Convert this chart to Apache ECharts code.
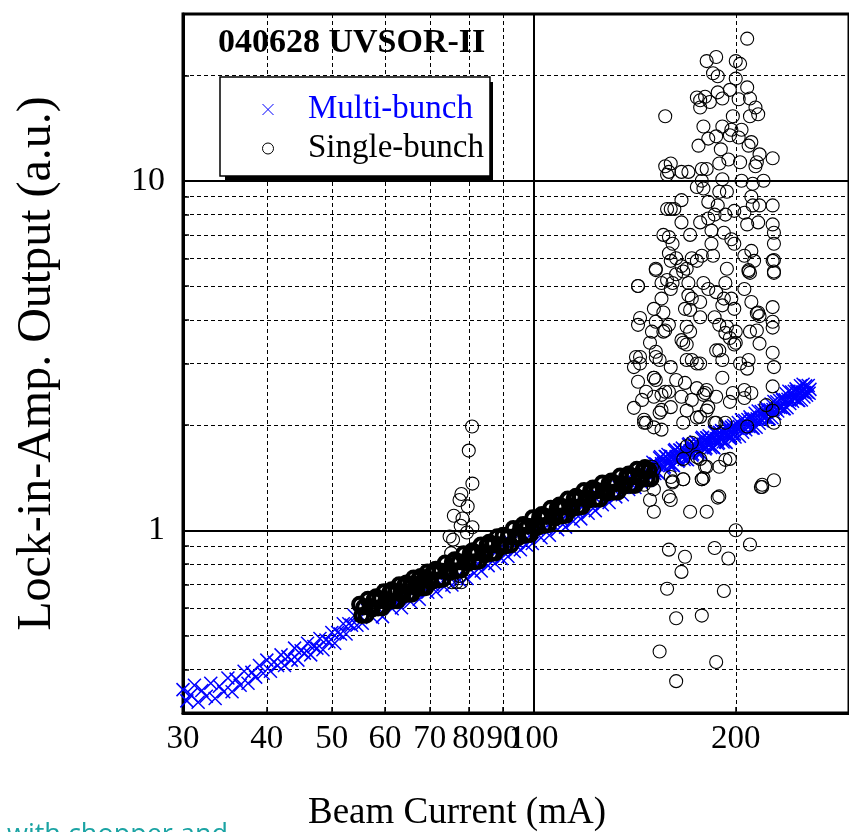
<!DOCTYPE html>
<html>
<head>
<meta charset="utf-8">
<script src="https://cdn.jsdelivr.net/npm/echarts@6/dist/echarts.min.js"></script>
<style>
html,body{margin:0;padding:0;background:#fff;}
#chart{width:849px;height:832px;}
</style>
</head>
<body>
<div id="chart"></div>
<script>
// ---------- tick values ----------
const xTickValues = [30, 40, 50, 60, 70, 80, 90, 100, 200];
const yGridValues = [0.3, 0.4, 0.5, 0.6, 0.7, 0.8, 0.9, 1, 2, 3, 4, 5, 6, 7, 8, 9, 10, 20, 30];
const yLabelValues = [1, 10];

// ---------- Multi-bunch (blue x) ----------
const multiBunchX = [
30.0,30.4,30.8,31.2,31.6,32.0,32.5,33.0,33.5,34.0,34.5,35.0,35.5,36.0,36.5,37.0,37.5,38.0,38.5,39.0,39.5,40.0,40.5,41.0,41.5,42.0,42.5,43.0,43.5,44.0,44.5,45.0,45.5,46.0,46.5,47.0,47.5,48.0,48.5,49.0,49.5,50.0,50.5,51.0,51.5,52.0,52.5,53.0,53.5,54.0,54.5,55.0,
55.5,56.5,57.5,58.5,59.5,60.5,61.5,62.5,63.5,64.5,65.5,66.5,67.5,68.5,69.5,70.5,71.5,72.5,73.5,74.5,75.5,76.5,77.5,78.5,79.5,80.5,81.5,82.5,83.5,84.5,85.5,86.5,87.5,88.5,89.5,90.5,91.5,92.5,93.5,94.5,95.5,96.5,97.5,98.5,99.5,
101,102.5,104,105.5,107,108.5,110,111.5,113,114.5,116,117.5,119,120.5,122,123.5,125,126.5,128,129.5,131,132.5,134,135.5,137,138.5,140,141.5,143,144.5,146,147.5,149,
150.5,151.5,152.5,153.5,154.5,155.5,156.5,157.5,158.5,159.5,160.5,161.5,162.5,163.5,164.5,165.5,166.5,167.5,168.5,169.5,170.5,171.5,172.5,173.5,174.5,175.5,176.5,177.5,178.5,179.5,180.5,181.5,182.5,183.5,184.5,185.5,186.5,187.5,188.5,189.5,190.5,191.5,192.5,193.5,194.5,195.5,196.5,197.5,198.5,199.5,
201,202.5,204,205.5,207,208.5,210,211.5,213,214.5,216,217.5,219,220.5,222,223.5,225,226.5,228,229.5,231,232.5,234,235.5,237,238.5,240,241.5,243,244.5,246,247.5,249,250.5,252,253.5,255,256.5,258,
151,152,153,154,155,156,157,158,159,160,161,162,163,164,165,166,167,168,169,170,171,172,173,174,175,176,177,178,179,180,181,182,183,184,185,186,187,188,189,190,191,192,193,194,195,196,197,198,199,200,
201.75,203.25,204.75,206.25,207.75,209.25,210.75,212.25,213.75,215.25,216.75,218.25,219.75,221.25,222.75,224.25,225.75,227.25,228.75,230.25,231.75,233.25,234.75,236.25,237.75,239.25,240.75,242.25,243.75,245.25,246.75,248.25,249.75,251.25,252.75,254.25,255.75,257.25
];
const multiBunchY = [
0.350,0.325,0.338,0.360,0.322,0.348,0.335,0.365,0.330,0.358,0.345,0.378,0.345,0.375,0.360,0.395,0.365,0.392,0.380,0.410,0.390,0.425,0.395,0.420,0.410,0.440,0.410,0.435,0.425,0.460,0.425,0.452,0.445,0.475,0.440,0.465,0.460,0.490,0.455,0.485,0.480,0.510,0.475,0.510,0.505,0.540,0.505,0.540,0.535,0.570,0.535,0.570,
0.542,0.590,0.563,0.600,0.566,0.629,0.596,0.629,0.600,0.660,0.624,0.672,0.635,0.697,0.665,0.701,0.667,0.731,0.689,0.741,0.697,0.764,0.720,0.766,0.728,0.798,0.754,0.803,0.765,0.839,0.792,0.843,0.803,0.881,0.830,0.884,0.841,0.922,0.869,0.924,0.879,0.963,0.907,0.965,0.917,
1.008,0.952,1.016,0.968,1.064,1.004,1.071,1.021,1.123,1.061,1.131,1.078,1.185,1.118,1.194,1.138,1.251,1.183,1.260,1.201,1.319,1.246,1.327,1.264,1.387,1.308,1.394,1.326,1.455,1.372,1.460,1.389,1.523,
1.565,1.454,1.540,1.458,1.622,1.539,1.518,1.622,1.648,1.531,1.620,1.531,1.701,1.612,1.587,1.693,1.718,1.594,1.685,1.592,1.769,1.677,1.652,1.763,1.790,1.661,1.756,1.661,1.845,1.748,1.721,1.835,1.862,1.726,1.824,1.723,1.913,1.812,1.783,1.901,1.928,1.788,1.889,1.784,1.980,1.875,1.845,1.967,1.995,1.849,
1.959,1.857,2.069,1.965,1.940,2.075,2.111,1.963,2.081,1.971,2.195,2.084,2.056,2.200,2.240,2.085,2.212,2.098,2.337,2.222,2.195,2.350,2.394,2.228,2.364,2.242,2.499,2.371,2.338,2.498,2.538,2.357,2.495,2.360,2.617,2.476,2.435,2.596,2.530,
1.480,1.550,1.461,1.609,1.550,1.505,1.625,1.564,1.558,1.632,1.536,1.689,1.624,1.575,1.697,1.632,1.623,1.697,1.597,1.756,1.689,1.639,1.767,1.699,1.691,1.769,1.665,1.831,1.761,1.708,1.840,1.768,1.758,1.838,1.729,1.900,1.826,1.770,1.906,1.832,1.821,1.903,1.790,1.967,1.890,1.832,1.973,1.895,1.884,1.969,
2.035,1.963,1.908,2.062,1.988,1.982,2.078,1.960,2.161,2.083,2.024,2.186,2.106,2.102,2.206,2.083,2.298,2.217,2.157,2.332,2.250,2.246,2.358,2.226,2.457,2.370,2.304,2.487,2.394,2.384,2.497,2.352,2.590,2.486,2.407,2.589,2.484,2.466
];

// ---------- Single-bunch: dense band 55-150 mA ----------
const singleBandX = [
55.0,55.4,55.8,56.2,56.6,57.0,57.4,57.8,58.2,58.6,59.0,59.4,59.8,60.2,60.6,61.0,61.4,61.8,62.2,62.6,63.0,63.4,63.8,64.2,64.6,65.0,65.4,65.8,66.2,66.6,67.0,67.4,67.8,68.2,68.6,69.0,69.4,69.8,
70.2,70.8,71.4,72.0,72.6,73.2,73.8,74.4,75.0,75.6,76.2,76.8,77.4,78.0,78.6,79.2,79.8,80.4,81.0,81.6,82.2,82.8,83.4,84.0,84.6,85.2,85.8,86.4,87.0,87.6,88.2,88.8,89.4,
90.0,90.8,91.6,92.4,93.2,94.0,94.8,95.6,96.4,97.2,98.0,98.8,99.6,100.4,101.2,102.0,102.8,103.6,104.4,105.2,106.0,106.8,107.6,108.4,109.2,110.0,110.8,111.6,112.4,113.2,114.0,114.8,115.6,116.4,117.2,118.0,118.8,119.6,
120.5,121.5,122.5,123.5,124.5,125.5,126.5,127.5,128.5,129.5,130.5,131.5,132.5,133.5,134.5,135.5,136.5,137.5,138.5,139.5,140.5,141.5,142.5,143.5,144.5,145.5,146.5,147.5,148.5,149.5
];
const singleBandY = [
0.614,0.570,0.603,0.571,0.635,0.603,0.594,0.634,0.645,0.599,0.633,0.599,0.667,0.633,0.623,0.665,0.676,0.627,0.664,0.628,0.698,0.661,0.652,0.696,0.707,0.656,0.694,0.656,0.730,0.691,0.681,0.727,0.737,0.684,0.724,0.685,0.760,0.721,
0.710,0.760,0.774,0.720,0.764,0.724,0.806,0.766,0.757,0.810,0.824,0.766,0.812,0.770,0.857,0.814,0.803,0.859,0.874,0.812,0.861,0.815,0.907,0.861,0.850,0.908,0.924,0.858,0.909,0.861,0.958,0.909,0.896,
0.967,0.901,0.956,0.908,1.012,0.963,0.952,1.020,1.038,0.967,1.026,0.973,1.085,1.031,1.018,1.090,1.110,1.032,1.095,1.038,1.156,1.099,1.084,1.161,1.181,1.098,1.164,1.103,1.228,1.166,1.151,1.231,1.252,1.164,1.233,1.168,1.300,1.234,
1.216,1.299,1.320,1.226,1.297,1.227,1.365,1.295,1.276,1.363,1.384,1.285,1.359,1.286,1.429,1.355,1.336,1.426,1.448,1.344,1.421,1.344,1.494,1.416,1.395,1.489,1.511,1.403,1.484,1.402
];

// ---------- Single-bunch: spike near 78 mA ----------
const singleSpikeX = [80.9,80.0,81.0,78.0,77.5,79.7,76.0,78.3,81.0,77.8,74.9,75.8,79.5,75.3,77.5,76.7,78.0,75.5];
const singleSpikeY = [1.98,1.69,1.36,1.27,1.22,1.17,1.10,1.08,1.02,1.03,0.96,0.94,0.985,0.86,0.74,0.71,0.71,0.71];

// ---------- Single-bunch: scattered cloud above 140 mA ----------
const singleCloudX = [
208,181,187,200,203,185,188,200,175,180,177,183,177,188,191,196,202,208,210,214,216,157,198,210,179,191,197,204,182,187,196,202,176,190,209,211,217,227,195,203,214,215,157,160,159,166,170,178,181,189,
158,175,179,178,191,204,212,220,189,194,166,160,158,162,182,188,193,199,206,211,212,217,227,166,177,182,186,208,216,227,228,156,159,161,171,184,192,197,199,184,228,159,160,163,172,175,178,185,206,211,213,227,
152,166,167,169,163,194,209,210,228,143,155,158,160,170,170,172,179,182,187,193,192,197,206,155,151,156,168,177,191,199,211,216,217,227,144,152,159,169,186,189,194,210,227,227,150,156,171,200,215,
142,144,152,154,151,152,143,145,147,159,163,169,172,177,168,175,180,160,155,146,147,151,155,169,175,181,186,179,187,191,199,196,203,208,191,196,206,211,217,227,228,227,222,227,228,208,187,172,167,177,180,189,196,179,161,150,147,151,219,228,155,160,166,141,151,141,
146,149,151,151,160,161,167,171,178,181,188,218,200,210,159,168,186,195,166,158,192,163,178,154,187,163,
144,152,151,146,154,157,169,175,167,189,200,209,193,171,177,157,149,143,166,172,181,187,198,206,177,167,182,193,169,175,193,181,160,167,178,219,159,189,
228,228,209,215,152,143,161
];
const singleCloudY = [
25.5,22,22.6,22,21.6,20.3,19.9,19.6,17.3,17.4,17,16.8,16.2,17.9,17.2,18.2,17.1,18.5,17.2,16.2,15.5,15.3,15.3,15.3,14.3,14.3,14,14,13.2,13.4,13.5,13.3,12.6,12.3,12.6,12.9,11.9,11.6,11.5,11.3,11.0,11.3,11.0,11.2,10.6,10.6,10.6,10.8,10.8,11.2,
10.4,9.6,9.5,10,10.1,10,9.8,10,9.3,9.3,8.8,8.3,8.3,8.3,8.7,8.5,8.0,8.2,8.1,9.0,8.5,8.5,8.5,7.6,7.6,7.8,8.0,7.5,7.6,7.5,7.1,7.0,6.9,6.6,7.0,7.2,7.1,6.8,6.6,6.6,6.6,6.2,5.9,6.0,6.0,5.9,6.1,6.1,6.1,6.3,5.9,5.9,
5.6,5.7,5.5,5.6,5.4,5.6,5.5,5.45,5.5,5.0,5.1,5.2,4.9,5.1,4.7,4.6,5.1,4.9,4.8,5.1,4.6,4.6,4.9,4.6,4.3,4.2,4.3,4.5,4.4,4.3,4.5,4.2,4.1,4.35,4.05,3.95,3.87,3.82,4.07,3.87,3.82,3.7,3.95,3.8,3.7,3.7,3.7,3.7,3.73,
3.13,3.0,3.24,3.07,2.73,2.69,2.66,2.36,2.49,2.49,2.69,3.4,3.07,3.0,2.64,2.55,2.47,2.25,2.21,2.07,2.03,1.97,1.94,2.2,2.1,2.2,2.03,2.44,3.27,3.07,3.4,3.55,3.0,2.9,2.73,2.33,2.39,2.47,3.42,3.22,2.93,2.58,2.28,2.2,2.03,1.98,2.03,1.78,1.6,1.6,1.52,1.52,1.6,1.41,1.37,1.52,1.46,1.49,1.35,1.39,2.44,2.93,3.5,2.24,2.41,2.93,
1.35,1.22,1.31,1.13,1.22,1.38,1.40,1.13,1.40,1.13,1.24,1.33,1.0,0.91,0.88,0.84,0.89,0.83,0.76,0.68,0.67,0.56,0.57,0.45,0.42,0.37,
3.13,3.13,2.73,2.03,2.17,2.49,3.07,3.0,3.44,3.27,3.44,3.07,3.67,4.27,4.07,3.73,3.44,3.87,2.41,2.36,2.52,2.41,2.47,2.52,2.11,2.03,2.25,2.03,1.74,1.62,1.59,1.52,1.42,1.4,1.4,1.33,1.25,1.25,
5.93,5.45,5.55,4.18,5.55,5.0,5.1
];

function pairs(xs, ys) { return xs.map((x, i) => [x, ys[i]]); }

const SERIF = 'Liberation Serif';
const CROSS = 'path://M0,0L10,10M10,0L0,10';
const dashed = { color: '#000', width: 1, type: [4, 3] };

const chart = echarts.init(document.getElementById('chart'), null, { renderer: 'canvas' });
chart.setOption({
  animation: false,
  backgroundColor: '#fff',
  title: {
    text: '040628 UVSOR-II', left: 218, top: 26, padding: 0,
    textStyle: { fontFamily: SERIF, fontWeight: 'bold', fontSize: 34, color: '#000' }
  },
  legend: {
    orient: 'vertical', left: 220, top: 77, z: 10,
    padding: [16, 6, 11, 42],
    itemWidth: 70, itemHeight: 11, itemGap: 6,
    backgroundColor: '#fff', borderColor: '#000', borderWidth: 1.5,
    textStyle: { fontFamily: SERIF, fontSize: 33, color: '#000' },
    data: [
      { name: 'Multi-bunch', icon: CROSS, itemStyle: { color: 'transparent', borderColor: '#0000ff', borderWidth: 1 }, textStyle: { color: '#0000ff' } },
      { name: 'Single-bunch', icon: 'circle', itemStyle: { color: 'transparent', borderColor: '#000', borderWidth: 1 }, textStyle: { color: '#000' } }
    ]
  },
  grid: {
    left: 183, top: 14, right: 0, height: 699,
    containLabel: false, outerBoundsMode: 'none',
    show: true, borderColor: '#000', borderWidth: 3, backgroundColor: 'transparent'
  },
  xAxis: [{
    type: 'log', logBase: 10, min: 30, max: 295,
    name: 'Beam Current (mA)', nameLocation: 'middle', nameGap: 82,
    nameTextStyle: { fontFamily: SERIF, fontSize: 37, color: '#000', padding: [0, 118, 0, 0] },
    axisLine: { show: true, lineStyle: { color: '#000', width: 3 } },
    axisTick: { show: true, inside: true, length: 6, customValues: xTickValues, lineStyle: { color: '#000', width: 1.5 } },
    axisLabel: { customValues: xTickValues, fontFamily: SERIF, fontSize: 33, color: '#000', margin: 10 },
    splitLine: { show: true, lineStyle: dashed },
    minorTick: { show: false }
  }],
  yAxis: [{
    type: 'log', logBase: 10, min: 0.3, max: 30,
    name: 'Lock-in-Amp. Output (a.u.)', nameLocation: 'middle', nameGap: 122,
    nameTextStyle: { fontFamily: SERIF, fontSize: 48, color: '#000' },
    axisLine: { show: true, lineStyle: { color: '#000', width: 3 } },
    axisTick: { show: true, inside: true, length: 6, customValues: yGridValues, lineStyle: { color: '#000', width: 1.5 } },
    axisLabel: { customValues: yLabelValues, fontFamily: SERIF, fontSize: 34, color: '#000', margin: 18 },
    splitLine: { show: true, lineStyle: dashed }
  }],
  graphic: [
    {
      type: 'rect', z: 9, silent: true,
      shape: { x: 225, y: 82, width: 268, height: 100 },
      style: { fill: '#000' }
    },
    {
      type: 'text', left: 7, top: 822,
      style: { text: 'with chopper and', fontFamily: 'Open Sans', fontSize: 27, fill: '#1aa3a3' }
    }
  ],
  series: [
    {
      name: 'Multi-bunch', type: 'scatter', symbol: CROSS, symbolSize: 13,
      itemStyle: { color: 'transparent', borderColor: '#0000ff', borderWidth: 1.5, opacity: 1 },
      data: pairs(multiBunchX, multiBunchY),
      markLine: {
        silent: true, symbol: ['none', 'none'], label: { show: false },
        lineStyle: { color: '#000', type: 'solid', width: 2 },
        data: [{ xAxis: 100 }, { yAxis: 1 }, { yAxis: 10 }]
      }
    },
    {
      name: 'Single-bunch', type: 'scatter', symbol: 'circle', symbolSize: 13,
      itemStyle: { color: 'transparent', borderColor: '#000', borderWidth: 4, opacity: 1 },
      data: pairs(singleBandX, singleBandY)
    },
    {
      name: 'Single-bunch', type: 'scatter', symbol: 'circle', symbolSize: 13,
      itemStyle: { color: 'transparent', borderColor: '#000', borderWidth: 1.1, opacity: 1 },
      data: pairs(singleSpikeX, singleSpikeY).concat(pairs(singleCloudX, singleCloudY))
    }
  ]
});
</script>
</body>
</html>
